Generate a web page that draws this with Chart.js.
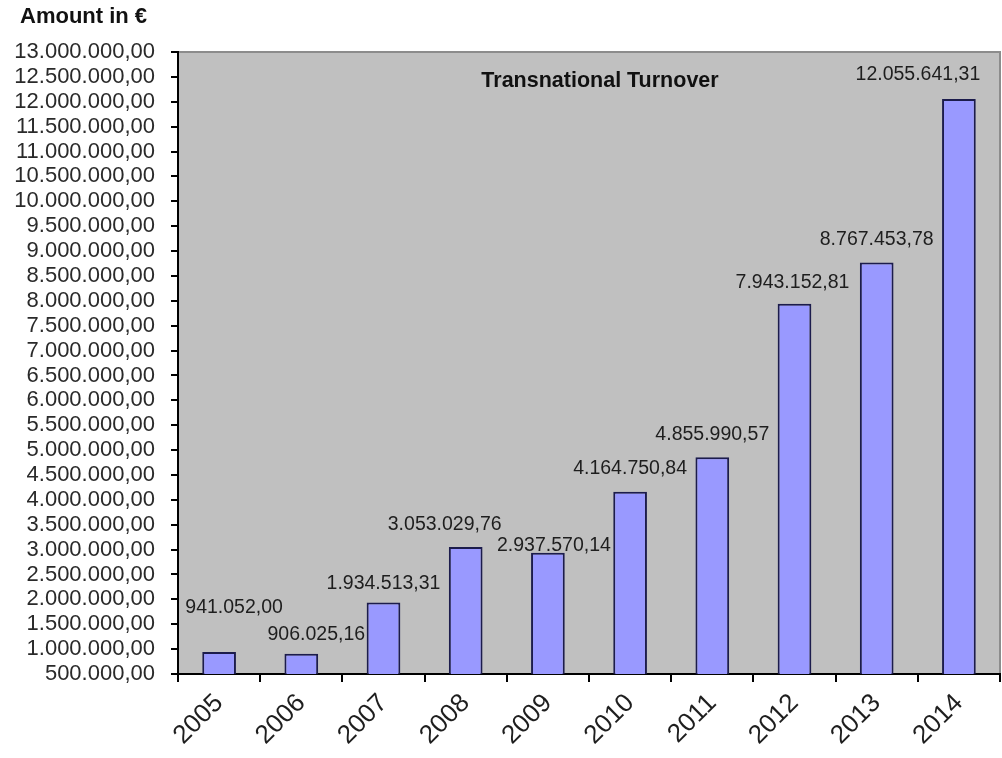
<!DOCTYPE html>
<html>
<head>
<meta charset="utf-8">
<script src="https://cdn.jsdelivr.net/npm/chart.js@4/dist/chart.umd.min.js"></script>
<style>
  html, body { margin: 0; background: #fff; }
</style>
</head>
<body>
<canvas id="chart" width="1002" height="758"></canvas>
<script>
const years = ["2005", "2006", "2007", "2008", "2009", "2010", "2011", "2012", "2013", "2014"];
const turnover = [941052.00, 906025.16, 1934513.31, 3053029.76, 2937570.14, 4164750.84, 4855990.57, 7943152.81, 8767453.78, 12055641.31];
const yMin = 500000;
const yMax = 13000000;
const yStep = 500000;
const axisTitle = "Amount in €";
const chartTitle = "Transnational Turnover";

// where each value label sits relative to the top of its bar (dx, dy)
const labelNudge = [[15, -44], [15, -19], [0, -19], [-21, -22], [6, -7], [0, -23], [0, -23], [-2, -21], [0, -23], [-41, -24]];

const FONT = '"Liberation Sans", Arial, sans-serif';

const euro = (v) => {
  const [int, dec] = Number(v).toFixed(2).split(".");
  return int.replace(/\B(?=(\d{3})+(?!\d))/g, ".") + "," + dec;
};

const plotBackground = {
  id: "plotBackground",
  beforeDraw(chart) {
    const { ctx, chartArea: a } = chart;
    ctx.save();
    ctx.fillStyle = "#c0c0c0";
    ctx.fillRect(a.left, a.top, a.right - a.left, a.bottom - a.top);
    ctx.strokeStyle = "#8c8c8c";
    ctx.lineWidth = 2;
    ctx.beginPath();
    ctx.moveTo(a.left, a.top);
    ctx.lineTo(a.right, a.top);
    ctx.lineTo(a.right, a.bottom);
    ctx.stroke();
    ctx.restore();
  }
};

const valueLabels = {
  id: "valueLabels",
  afterDatasetsDraw(chart) {
    const { ctx } = chart;
    const bars = chart.getDatasetMeta(0).data;
    ctx.save();
    ctx.font = "19.5px " + FONT;
    ctx.fillStyle = "#1e1e1e";
    ctx.textAlign = "center";
    ctx.textBaseline = "middle";
    bars.forEach((bar, i) => {
      const [dx, dy] = labelNudge[i];
      ctx.fillText(euro(turnover[i]), bar.x + dx, bar.y + dy);
    });
    ctx.restore();
  }
};

const titles = {
  id: "titles",
  afterDraw(chart) {
    const { ctx, chartArea: a } = chart;
    ctx.save();
    ctx.fillStyle = "#111";
    ctx.textBaseline = "middle";
    ctx.font = "bold 22px " + FONT;
    ctx.textAlign = "left";
    ctx.fillText(axisTitle, 20, 17);
    ctx.font = "bold 21.5px " + FONT;
    ctx.textAlign = "center";
    ctx.fillText(chartTitle, (a.left + a.right) / 2 + 11, a.top + 29);
    ctx.restore();
  }
};

new Chart(document.getElementById("chart"), {
  type: "bar",
  data: {
    labels: years,
    datasets: [{
      data: turnover,
      backgroundColor: "#9999ff",
      borderColor: "#1c1c4c",
      borderWidth: 2,
      borderSkipped: false,
      barPercentage: 0.41,
      categoryPercentage: 1
    }]
  },
  options: {
    responsive: false,
    animation: false,
    devicePixelRatio: 1,
    layout: { padding: { top: 52, right: 2, left: 0, bottom: 0 } },
    plugins: {
      legend: { display: false },
      tooltip: { enabled: false }
    },
    scales: {
      x: {
        offset: true,
        grid: { display: true, drawOnChartArea: false, drawTicks: true, tickLength: 8, color: "#000", lineWidth: 2, offset: true },
        border: { color: "#000", width: 2 },
        ticks: { minRotation: 45, maxRotation: 45, color: "#1e1e1e", font: { family: FONT, size: 26 }, padding: 6 },
        afterFit: (s) => { s.height = 84; }
      },
      y: {
        min: yMin,
        max: yMax,
        grid: { display: true, drawOnChartArea: false, drawTicks: true, tickLength: 7, color: "#000", lineWidth: 2 },
        border: { color: "#000", width: 2 },
        ticks: {
          stepSize: yStep,
          autoSkip: false,
          color: "#2a2a2a",
          font: { family: FONT, size: 22 },
          padding: 16,
          callback: (v) => euro(v)
        },
        afterFit: (s) => { s.width = 178; }
      }
    }
  },
  plugins: [plotBackground, valueLabels, titles]
});
</script>
</body>
</html>
